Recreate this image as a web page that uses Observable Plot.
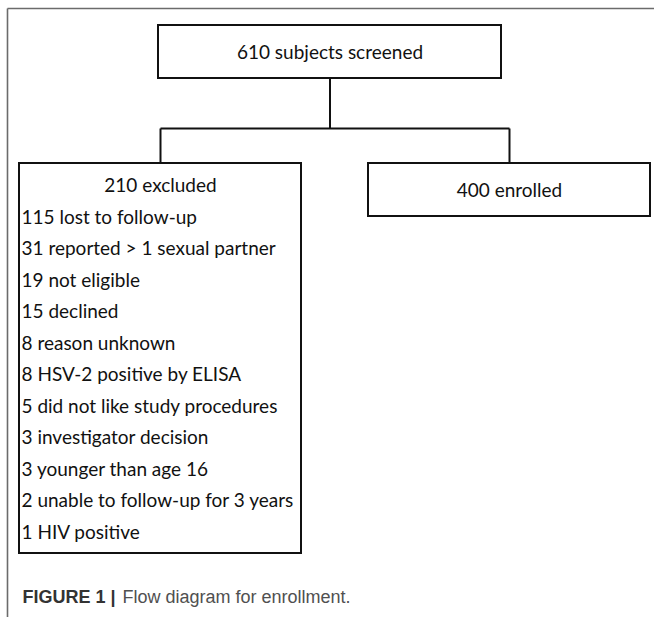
<!DOCTYPE html>
<html><head><meta charset="utf-8">
<script src="https://cdn.jsdelivr.net/npm/d3@7"></script>
<script src="https://cdn.jsdelivr.net/npm/@observablehq/plot@0.6"></script>
<style>html,body{margin:0;padding:0;background:#fff}svg{display:block}</style>
</head><body><div id="chart"></div>
<script>
// ---- data ----
const screenedCount = 610;
const screenedLabel = "subjects screened";
const excludedCount = 210;
const excludedLabel = "excluded";
const enrolledCount = 400;
const enrolledLabel = "enrolled";
const reasonCounts = [115, 31, 19, 15, 8, 8, 5, 3, 3, 2, 1];
const reasonLabels = [
  "lost to follow-up",
  "reported > 1 sexual partner",
  "not eligible",
  "declined",
  "reason unknown",
  "HSV-2 positive by ELISA",
  "did not like study procedures",
  "investigator decision",
  "younger than age 16",
  "unable to follow-up for 3 years",
  "HIV positive"
];
const captionBold = "FIGURE 1 |";
const captionText = "Flow diagram for enrollment.";

// ---- layout (diagram coordinate system) ----
const W = 654, H = 617;
const boxes = [
  {id: "screened", x1: 158, x2: 501, y1: 25, y2: 78},
  {id: "excluded", x1: 19, x2: 301, y1: 163, y2: 553},
  {id: "enrolled", x1: 368, x2: 650, y1: 163, y2: 216}
];
const cx = b => (b.x1 + b.x2) / 2;
const [bTop, bLeft, bRight] = boxes;
const branchY = 128;
const connectors = [
  {x1: cx(bTop), y1: bTop.y2, x2: cx(bTop), y2: branchY},
  {x1: cx(bLeft), y1: branchY, x2: cx(bRight), y2: branchY},
  {x1: cx(bLeft), y1: branchY, x2: cx(bLeft), y2: bLeft.y1},
  {x1: cx(bRight), y1: branchY, x2: cx(bRight), y2: bRight.y1}
];
const frame = [
  {x1: 7, y1: H, x2: 7, y2: 8},
  {x1: 7, y1: 8, x2: W, y2: 8}
];
const headTexts = [
  {x: cx(bTop), y: 52, t: `${screenedCount} ${screenedLabel}`},
  {x: cx(bLeft), y: 185, t: `${excludedCount} ${excludedLabel}`},
  {x: cx(bRight), y: 190, t: `${enrolledCount} ${enrolledLabel}`}
];
const reasonRows = reasonCounts.map((c, i) => ({x: 21, y: 217 + i * 31.5, t: `${c} ${reasonLabels[i]}`}));

const boxFont = "Lato, 'Open Sans', sans-serif";
const capFont = "'Liberation Sans', Arial, sans-serif";

const chart = Plot.plot({
  width: W, height: H,
  margin: 0,
  x: {domain: [0, W], range: [0, W], axis: null},
  y: {domain: [0, H], range: [0, H], axis: null},
  marks: [
    Plot.link(frame, {x1: "x1", y1: "y1", x2: "x2", y2: "y2", stroke: "#6b6b6b", strokeWidth: 1.6}),
    Plot.link(connectors, {x1: "x1", y1: "y1", x2: "x2", y2: "y2", stroke: "#111", strokeWidth: 2}),
    Plot.rect(boxes, {x1: "x1", x2: "x2", y1: "y1", y2: "y2", fill: "#fff", stroke: "#111", strokeWidth: 2}),
    Plot.text(headTexts, {x: "x", y: "y", text: "t", textAnchor: "middle", fontSize: 19, fill: "#111", fontFamily: boxFont}),
    Plot.text(reasonRows, {x: "x", y: "y", text: "t", textAnchor: "start", fontSize: 19, fill: "#111", fontFamily: boxFont}),
    Plot.text([{x: 22, y: 597, t: captionBold}], {x: "x", y: "y", text: "t", textAnchor: "start", fontSize: 18, fontWeight: "bold", fill: "#333", fontFamily: capFont}),
    Plot.text([{x: 122, y: 597, t: captionText}], {x: "x", y: "y", text: "t", textAnchor: "start", fontSize: 18, fill: "#505050", fontFamily: capFont})
  ]
});
document.getElementById("chart").appendChild(chart);
</script>
</body></html>
